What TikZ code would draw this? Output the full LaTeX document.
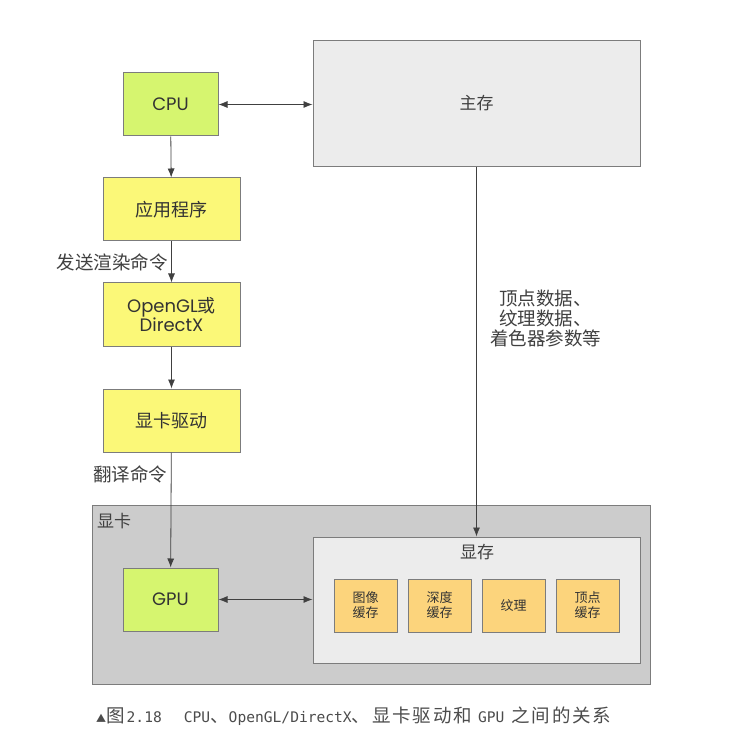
\documentclass[tikz,border=0pt]{standalone}
\usepackage{fontspec}
\setmainfont{Poppins}
\newfontfamily\cjk{Noto Sans CJK SC}
\newfontfamily\capcjk[LetterSpace=10]{Noto Sans CJK SC}
\newfontfamily\capmono{DejaVu Sans Mono}
\usetikzlibrary{arrows.meta}

\definecolor{chipgreen}{HTML}{D6F56F}
\definecolor{apiyellow}{HTML}{FBF878}
\definecolor{bufforange}{HTML}{FCD47C}
\definecolor{cardgray}{HTML}{CCCCCC}
\definecolor{memgray}{HTML}{ECECEC}
\definecolor{edgegray}{HTML}{7C7C7C}

\begin{document}
\begin{tikzpicture}[x=1pt,y=-1pt,
        block/.style={draw=edgegray,line width=1pt,inner sep=0pt,text=black!80,align=center},
        chip/.style={block,fill=chipgreen,minimum width=95pt,minimum height=63pt,font=\fontsize{18}{19}\selectfont},
        api/.style={block,fill=apiyellow,minimum width=137pt,minimum height=63pt,font=\fontsize{18}{19}\selectfont},
        buffer/.style={block,fill=bufforange,minimum width=63pt,minimum height=53pt,font=\cjk\fontsize{13}{15}\selectfont},
        memory/.style={block,fill=memgray,minimum width=327pt,minimum height=126pt},
        link/.style={-{Latex[length=9pt,width=7pt]},draw=black!75,line width=0.8pt},
        both/.style={link,{Latex[length=9pt,width=7pt]}-{Latex[length=9pt,width=7pt]}},
        note/.style={font=\cjk\fontsize{17}{20}\selectfont,text=black!75,align=center},
        edgenote/.style={note,font=\cjk\fontsize{18.5}{20}\selectfont}
    ]
    \fill[white] (0,0) rectangle (736,735);
    \useasboundingbox (0,0) rectangle (736,735);

    % Host side
    \node[memory] (ram) at (476.5,103.5) {};
    \node[note] at (476.5,103.5) {主存};
    \node[chip] (cpu) at (170.5,104.5) {CPU};
    \node[api] (app) at (171.5,209.5) {\cjk 应用程序};
    \node[api] (gl) at (171.5,314.5) {OpenGL{\cjk 或}\\DirectX};
    \node[api] (drv) at (171.5,420.5) {\cjk 显卡驱动};

    % Graphics card
    \node[block,fill=cardgray,minimum width=558pt,minimum height=179pt] (card) at (371,594.5) {};
    \node[note] at (114,521) {显卡};
    \node[memory] (vram) at (476.5,600) {};
    \node[note] at (477,552) {显存};
    \node[chip] (gpu) at (170.5,599.5) {GPU};
    \node[buffer] (img) at (365.5,605.5) {图像\\缓存};
    \node[buffer] (dep) at (439.5,605.5) {深度\\缓存};
    \node[buffer] (tex) at (513.5,605.5) {纹理};
    \node[buffer] (vtx) at (587.5,605.5) {顶点\\缓存};

    % Arrows
    \draw[both] (cpu) -- (cpu -| ram.west);
    \draw[link] (cpu) -- (app);
    \draw[link] (app) -- node[edgenote,left,pos=0.5] {发送渲染命令} (gl);
    \draw[link] (gl) -- (drv);
    \draw[link] (drv) -- node[edgenote,left,pos=0.19] {翻译命令} (gpu);
    \draw[link] (ram) -- node[edgenote,right,pos=0.41,xshift=10pt] {顶点数据、\\纹理数据、\\着色器参数等} (vram);
    \draw[both] (gpu) -- (gpu -| vram.west);

    % Caption
    \node[anchor=west,inner sep=0pt,font=\capcjk\fontsize{18.5}{20}\selectfont,text=black!70] (caption) at (96,716)
        {{\fontsize{10}{10}\selectfont ▲}图\hspace{2pt}{\capmono\fontsize{14.6}{16}\selectfont 2.18}\hspace{22pt}{\capmono\fontsize{14.6}{16}\selectfont CPU}、{\capmono\fontsize{14.6}{16}\selectfont OpenGL/DirectX}、显卡驱动和\hspace{6pt}{\capmono\fontsize{14.6}{16}\selectfont GPU}\hspace{7pt}之间的关系};
\end{tikzpicture}
\end{document}
